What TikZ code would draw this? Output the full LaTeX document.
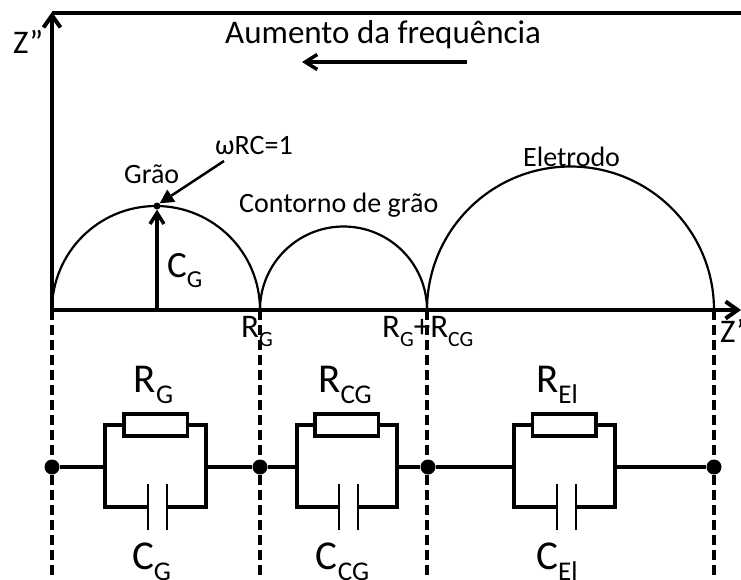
\documentclass[tikz,border=0pt]{standalone}
\usepackage{fontspec}
\usepackage{graphicx}
\setmainfont{Carlito}
\usetikzlibrary{arrows.meta}
\newcommand\sbs[1]{\raisebox{-0.28em}{\scalebox{0.66}{#1}}}
\tikzset{
  axisline/.style={line width=4pt},
  arcline/.style={line width=2.2pt},
  wire/.style={line width=3.5pt},
  plate/.style={line width=2.5pt},
  guide/.style={line width=3.5pt, dash pattern=on 10pt off 5pt},
  res/.style={draw, line width=3.5pt, fill=white, minimum width=63.5pt, minimum height=22pt, inner sep=0pt},
  junction/.style={circle, fill=black, inner sep=0pt, minimum size=15pt},
  peak/.style={circle, fill=black, inner sep=0pt, minimum size=7pt},
  small/.style={font=\fontsize{28}{32}\selectfont, inner sep=0pt},
  mid/.style={font=\fontsize{33}{38}\selectfont, inner sep=0pt},
  big/.style={font=\fontsize{41}{46}\selectfont, inner sep=0pt},
  barb/.style={-{Straight Barb[length=12pt,width=17pt]}},
}
\begin{document}
\begin{tikzpicture}[x=1pt,y=-1pt]
\useasboundingbox (0,0) rectangle (741,579);
% key points
\coordinate (O) at (52,310);
\coordinate (Ytop) at (52,12);
\coordinate (TopR) at (741,13);
\coordinate (Xend) at (741,310);
\coordinate (P1) at (260,310);
\coordinate (P2) at (427,310);
\coordinate (P3) at (714,310);
\coordinate (B0) at (52,579);
\coordinate (B1) at (260,579);
\coordinate (B2) at (427,579);
\coordinate (B3) at (714,579);
% dashed guides
\draw[guide] (O) -- (B0);
\draw[guide] (P1) -- (B1);
\draw[guide] (P2) -- (B2);
\draw[guide] (P3) -- (B3);
% arcs
\draw[arcline] (O) arc[start angle=180,end angle=360,radius=104];
\draw[arcline] (P1) arc[start angle=180,end angle=360,radius=83.5];
\draw[arcline] (P2) arc[start angle=180,end angle=360,radius=143.5];
% axes
\draw[axisline] (52,13) -- (TopR);
\draw[axisline,barb] (O) -- (Ytop);
\draw[axisline,barb] (O) -- (Xend);
% peak and C_G arrow
\node[peak] (pk) at (157,206) {};
\coordinate (pkbase) at (157,310);
\draw[line width=3.5pt,-{Straight Barb[length=11pt,width=14pt]}] (pkbase) -- (pk.south);
\coordinate (wtail) at (224,161);
\draw[line width=2.5pt,-{Triangle[length=14pt,width=14pt]}] (wtail) -- (pk.north east);
% frequency arrow
\coordinate (fa) at (467,62);
\coordinate (fb) at (302,62);
\draw[line width=3.5pt,-{Straight Barb[length=12pt,width=15pt]}] (fa) -- (fb);
% texts
\node[mid,anchor=base west] (zz) at (13,53) {Z”};
\node[mid,anchor=base west] (aum) at (225,43) {Aumento da frequência};
\node[small,anchor=base west] (grao) at (124,183) {Grão};
\node[small,anchor=base west] (wrc) at (215,154) {ωRC=1};
\node[small,anchor=base west] (cont) at (239,212) {Contorno de grão};
\node[small,anchor=base west] (elet) at (523,166) {Eletrodo};
\node[font=\fontsize{37}{42}\selectfont,inner sep=0pt,anchor=base west] (cgp) at (167,277) {C\sbs{G}};
\node[mid,anchor=base west] (rg) at (241,337) {R\sbs{G}};
\node[mid,anchor=base west] (rgcg) at (382,337) {R\sbs{G}+R\sbs{CG}};
\node[mid,anchor=base west] (zp) at (720,342) {Z’};
% circuit
\node[junction] (j0) at (52,467) {};
\node[junction] (j1) at (260,467) {};
\node[junction] (j2) at (428,467) {};
\node[junction] (j3) at (714,467) {};
% block 1
\node[res] (r1) at (155.5,425) {};
\coordinate (b1l) at (105,467);
\coordinate (b1r) at (206,467);
\coordinate (c1a) at (148,507);
\coordinate (c1b) at (167,507);
\draw[wire] (j0) -- (b1l);
\draw[wire] (b1r) -- (j1);
\draw[wire] (r1.west) -| (b1l) |- (c1a);
\draw[wire] (r1.east) -| (b1r) |- (c1b);
\draw[plate] (c1a) ++(0,-23) -- ++(0,46);
\draw[plate] (c1b) ++(0,-23) -- ++(0,46);
% block 2
\node[res] (r2) at (346.5,425) {};
\coordinate (b2l) at (297,467);
\coordinate (b2r) at (397,467);
\coordinate (c2a) at (339,507);
\coordinate (c2b) at (358,507);
\draw[wire] (j1) -- (b2l);
\draw[wire] (b2r) -- (j2);
\draw[wire] (r2.west) -| (b2l) |- (c2a);
\draw[wire] (r2.east) -| (b2r) |- (c2b);
\draw[plate] (c2a) ++(0,-23) -- ++(0,46);
\draw[plate] (c2b) ++(0,-23) -- ++(0,46);
% block 3
\node[res] (r3) at (564,425) {};
\coordinate (b3l) at (514,467);
\coordinate (b3r) at (615,467);
\coordinate (c3a) at (557,507);
\coordinate (c3b) at (576,507);
\draw[wire] (j2) -- (b3l);
\draw[wire] (b3r) -- (j3);
\draw[wire] (r3.west) -| (b3l) |- (c3a);
\draw[wire] (r3.east) -| (b3r) |- (c3b);
\draw[plate] (c3a) ++(0,-23) -- ++(0,46);
\draw[plate] (c3b) ++(0,-23) -- ++(0,46);
% circuit labels
\node[big,anchor=base] (lrg) at (153.5,392) {R\sbs{G}};
\node[big,anchor=base] (lcg) at (151.5,569) {C\sbs{G}};
\node[big,anchor=base] (lrcg) at (345,392) {R\sbs{CG}};
\node[big,anchor=base] (lccg) at (342.5,569) {C\sbs{CG}};
\node[big,anchor=base] (lrel) at (557,392) {R\sbs{El}};
\node[big,anchor=base] (lcel) at (557,569) {C\sbs{El}};
\end{tikzpicture}
\end{document}
